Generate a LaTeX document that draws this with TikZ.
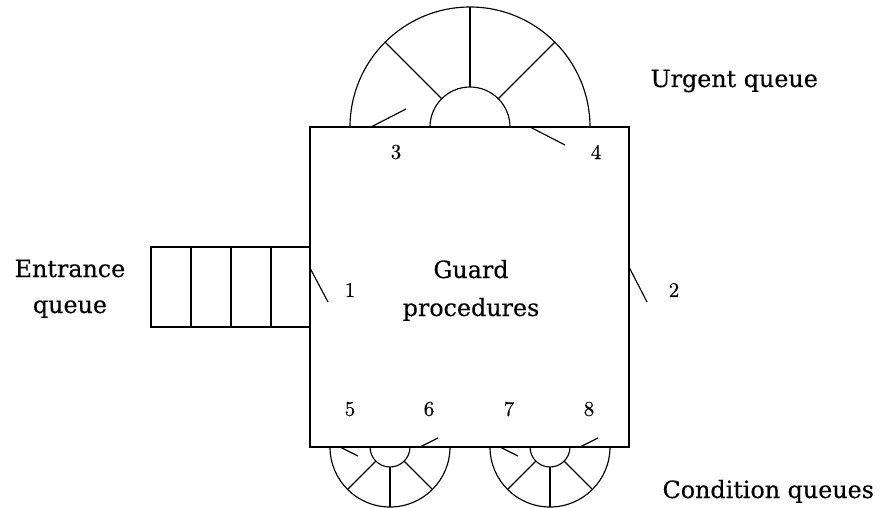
\documentclass[tikz,border=0pt]{standalone}
\usepackage{fontspec}
\setmainfont{DejaVu Serif}[FakeBold=0.3]
\newfontfamily\numfont{lmroman10-regular}[Extension=.otf,FakeBold=0.4]
\usetikzlibrary{calc}
\begin{document}
\begin{tikzpicture}[x=1pt,y=1pt,line width=1.15pt,
  lbl/.style={inner sep=0pt,font=\fontsize{23.8}{36}\selectfont},
  num/.style={inner sep=0pt,font=\fontsize{21}{25}\numfont},
  tick/.style={line width=1.15pt}]
\useasboundingbox (0,0) rectangle (881,507);

% monitor body
\draw (310,60) rectangle (629,380);

% urgent queue: half ring above the body
\coordinate (uc) at (470,380);
\draw ([xshift=120pt]uc) arc (0:180:120);
\draw ([xshift=40pt]uc) arc (0:180:40);
\foreach \a in {45,90,135}
  \draw ($(uc)+(\a:40)$) -- ($(uc)+(\a:120)$);

% condition queues: half rings below the body
\foreach \cx/\nm in {390/ca,550/cb}{
  \coordinate (\nm) at (\cx,60);
  \draw ([xshift=60pt]\nm) arc (0:-180:60);
  \draw ([xshift=20pt]\nm) arc (0:-180:20);
  \foreach \a in {225,270,315}
    \draw ($(\nm)+(\a:20)$) -- ($(\nm)+(\a:60)$);
}

% entrance queue
\draw (151,180) rectangle (310,260);
\foreach \x in {191,231,271}
  \draw (\x,180) -- (\x,260);

% door markers
\coordinate (d1a) at (310,239); \coordinate (d1b) at (328,205);
\coordinate (d2a) at (629,240); \coordinate (d2b) at (647,205);
\coordinate (d3a) at (371,380); \coordinate (d3b) at (406,398);
\coordinate (d4a) at (530,380); \coordinate (d4b) at (565,362);
\coordinate (d5a) at (340,60);  \coordinate (d5b) at (358,51);
\coordinate (d6a) at (420,60);  \coordinate (d6b) at (438,69);
\coordinate (d7a) at (500,60);  \coordinate (d7b) at (518,51);
\coordinate (d8a) at (580,60);  \coordinate (d8b) at (598,69);
\foreach \i in {1,...,8}
  \draw[tick] (d\i a) -- (d\i b);

% door numbers
\node[num] (n1) at (350,217) {1};
\node[num] (n2) at (674,217) {2};
\node[num] (n3) at (396,355) {3};
\node[num] (n4) at (596,355) {4};
\node[num] (n5) at (350,98) {5};
\node[num] (n6) at (429,98) {6};
\node[num] (n7) at (509,98) {7};
\node[num] (n8) at (589,98) {8};

% captions
\node[lbl,anchor=base west] (urg) at (650,420) {Urgent queue};
\node[lbl,anchor=base] (ent1) at (70,230) {Entrance};
\node[lbl,anchor=base] (ent2) at (70,194) {queue};
\node[lbl,anchor=base] (gd1) at (471,229) {Guard};
\node[lbl,anchor=base] (gd2) at (471,191) {procedures};
\node[lbl,anchor=base west] (cond) at (662,9) {Condition queues};
\end{tikzpicture}
\end{document}
